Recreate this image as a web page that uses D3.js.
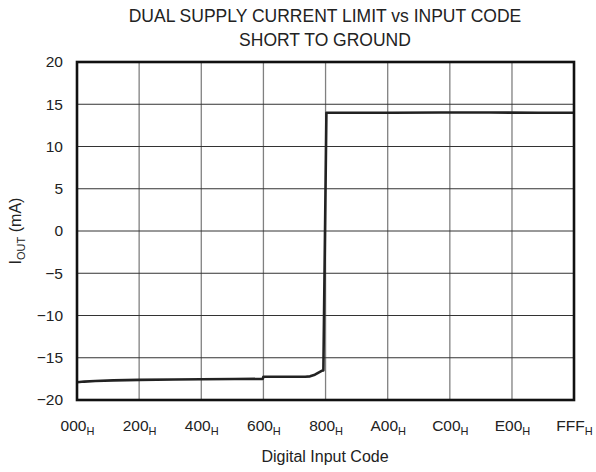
<!DOCTYPE html>
<html>
<head>
<meta charset="utf-8">
<script src="https://cdn.jsdelivr.net/npm/d3@7"></script>
<style>
  html, body { margin: 0; padding: 0; background: #fff; }
  svg { display: block; font-family: "Liberation Sans", Arial, sans-serif; }
</style>
</head>
<body>
<svg id="chart" width="596" height="472"></svg>
<script>
// Input code (decimal, 0..4095) and output current in mA
const codes = [0, 60, 150, 300, 512, 800, 1024, 1300, 1530, 1536, 1700, 1880, 1920, 1960, 1990, 2016, 2030, 2055, 2300, 2600, 3000, 3400, 3800, 4095];
const currents = [-17.9, -17.82, -17.75, -17.68, -17.62, -17.58, -17.55, -17.52, -17.5, -17.25, -17.24, -17.24, -17.2, -17.0, -16.75, -16.55, -16.5, 14.0, 14.0, 14.0, 14.02, 14.02, 14.0, 14.0];

const xTickValues = [0, 512, 1024, 1536, 2048, 2560, 3072, 3584, 4095];
const xTickLabels = ["000", "200", "400", "600", "800", "A00", "C00", "E00", "FFF"];
const yTickValues = [-20, -15, -10, -5, 0, 5, 10, 15, 20];

const svg = d3.select("#chart");
const m = { left: 77, right: 574, top: 62, bottom: 400 };
const FONT = "Liberation Sans, Arial, sans-serif";

const x = d3.scaleLinear().domain([0, 4095]).range([m.left, m.right]);
const y = d3.scaleLinear().domain([-20, 20]).range([m.bottom, m.top]);

// Title
svg.append("text").attr("x", 325).attr("y", 22).attr("text-anchor", "middle")
  .attr("font-size", 17.5).attr("fill", "#222").text("DUAL SUPPLY CURRENT LIMIT vs INPUT CODE");
svg.append("text").attr("x", 325).attr("y", 46).attr("text-anchor", "middle")
  .attr("font-size", 17.5).attr("fill", "#222").text("SHORT TO GROUND");

// Grid
const grid = svg.append("g");
grid.selectAll("line.v").data(xTickValues.slice(1, -1)).join("line")
  .attr("x1", d => x(d)).attr("x2", d => x(d))
  .attr("y1", m.top).attr("y2", m.bottom)
  .attr("stroke", "#808080").attr("stroke-width", 1.3);
grid.selectAll("line.h").data(yTickValues.slice(1, -1)).join("line")
  .attr("x1", m.left).attr("x2", m.right)
  .attr("y1", d => y(d)).attr("y2", d => y(d))
  .attr("stroke", "#333").attr("stroke-width", 1);

// Y axis labels
const yAxis = d3.axisLeft(y).tickValues(yTickValues).tickSize(0).tickPadding(14)
  .tickFormat(d => d < 0 ? "\u2212" + Math.abs(d) : String(d));
const yg = svg.append("g").attr("transform", `translate(${m.left},0)`).call(yAxis);
yg.select(".domain").remove();
yg.selectAll("text").attr("font-size", 15.5).attr("fill", "#222").attr("font-family", FONT);

// X axis labels with subscript H
const xAxis = d3.axisBottom(x).tickValues(xTickValues).tickSize(0).tickPadding(0)
  .tickFormat(() => "");
const xg = svg.append("g").attr("transform", `translate(0,${m.bottom})`).call(xAxis);
xg.select(".domain").remove();
xg.selectAll(".tick text").each(function(d, i) {
  const t = d3.select(this).text(null)
    .attr("y", 31).attr("dy", null).attr("font-size", 15.5).attr("fill", "#222")
    .attr("font-family", FONT);
  t.append("tspan").text(xTickLabels[i]);
  t.append("tspan").attr("font-size", 11).attr("dy", 4).text("H");
});

// Axis titles
svg.append("text").attr("x", 325).attr("y", 462).attr("text-anchor", "middle")
  .attr("font-size", 16).attr("fill", "#222").text("Digital Input Code");
const yt = svg.append("text").attr("transform", "translate(21,231) rotate(-90)")
  .attr("text-anchor", "middle").attr("font-size", 16).attr("fill", "#222");
yt.append("tspan").text("I");
yt.append("tspan").attr("font-size", 11).attr("dy", 4).text("OUT");
yt.append("tspan").attr("dy", -4).text(" (mA)");

// Data line
const pts = codes.map((c, i) => [c, currents[i]]);
svg.append("path").datum(pts)
  .attr("fill", "none").attr("stroke", "#222").attr("stroke-width", 2.6)
  .attr("stroke-linejoin", "round")
  .attr("d", d3.line().x(d => x(d[0])).y(d => y(d[1])));

// Frame
svg.append("rect").attr("x", m.left).attr("y", m.top)
  .attr("width", m.right - m.left).attr("height", m.bottom - m.top)
  .attr("fill", "none").attr("stroke", "#111").attr("stroke-width", 2.6);
</script>
</body>
</html>
